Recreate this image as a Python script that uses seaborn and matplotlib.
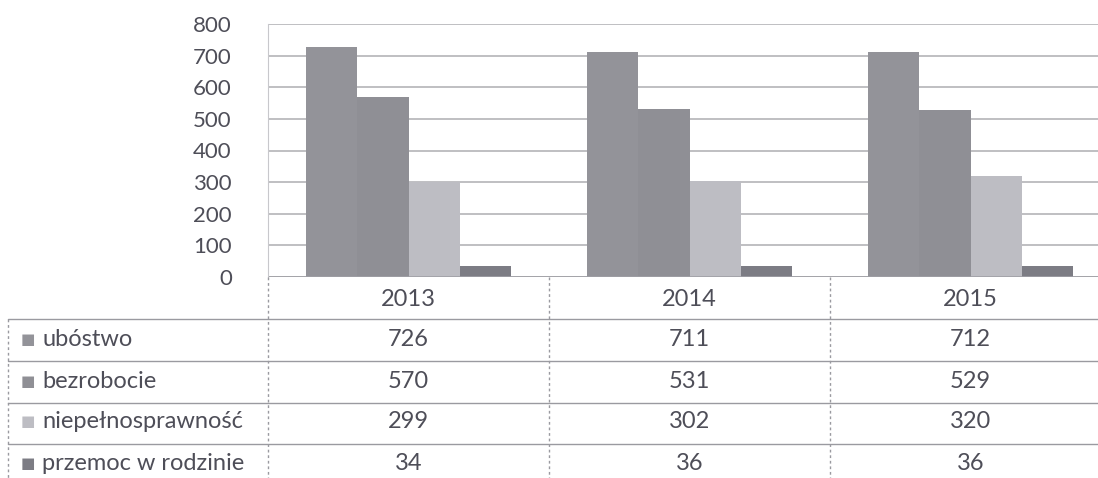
import pandas as pd
import numpy as np
import seaborn as sns
import matplotlib.pyplot as plt
from matplotlib.lines import Line2D

# data
years = ['2013', '2014', '2015']
categories = ['ubóstwo', 'bezrobocie', 'niepełnosprawność', 'przemoc w rodzinie']
ubostwo = [726, 711, 712]
bezrobocie = [570, 531, 529]
niepelnosprawnosc = [299, 302, 320]
przemoc = [34, 36, 36]
colors = ['#939399', '#8f8f95', '#bdbdc3', '#7c7c84']

series = [ubostwo, bezrobocie, niepelnosprawnosc, przemoc]
df = pd.DataFrame({
    'rok': np.tile(years, len(categories)),
    'kategoria': np.repeat(categories, len(years)),
    'liczba': np.concatenate(series),
})

sns.set_style('white')
plt.rcParams['font.family'] = ['Lato', 'DejaVu Sans']
txt_color = '#4e4e58'

W, H = 1098, 478
fig = plt.figure(figsize=(W / 100, H / 100), dpi=100)
# plot area in pixels: left 268, right 1111 (cut off), top 24, bottom 277
ax = fig.add_axes([268 / W, 1 - 277 / H, (1111 - 268) / W, (277 - 24) / H])

sns.barplot(data=df, x='rok', y='liczba', hue='kategoria', palette=colors,
            width=0.726, ax=ax, legend=False, saturation=1, linewidth=0)

ax.set_xlim(-0.5, 2.5)
ax.set_ylim(0, 800)
ax.set_yticks(range(0, 801, 100))
ax.yaxis.grid(True, color='#b4b4b8', linewidth=1.2)
ax.set_axisbelow(True)
for s in ['top', 'right', 'bottom']:
    ax.spines[s].set_visible(False)
ax.spines['left'].set_color('#c8c8cc')
ax.axhline(0, color='#a0a0a6', linewidth=1.2)
ax.tick_params(axis='y', length=0, labelsize=16, labelcolor=txt_color, pad=26)
ax.tick_params(axis='x', length=0)
ax.set_xticklabels([])
ax.set_xlabel('')
ax.set_ylabel('')

# data table under the chart
def fy(py):
    return 1 - py / H

row_lines = [319, 361, 403, 444]
row_mid = [299, 340, 381, 422, 463]
line_kw = dict(color='#9a9aa0', linewidth=1.0, transform=fig.transFigure)

# horizontal rules
for y in row_lines:
    fig.add_artist(Line2D([8 / W, 1], [fy(y), fy(y)], **line_kw))

# vertical dotted separators
for px in [268, 549, 830]:
    fig.add_artist(Line2D([px / W, px / W], [fy(277), 0], linestyle=(0, (2, 2)), **line_kw))
fig.add_artist(Line2D([8 / W, 8 / W], [fy(319), 0], linestyle=(0, (2, 2)), **line_kw))

for j, yr in enumerate(years):
    fig.text((268 + 281 * j + 140.5) / W, fy(row_mid[0]), yr, ha='center', va='center',
             fontsize=17, color=txt_color)

for i, (cat, vals) in enumerate(zip(categories, series)):
    yy = fy(row_mid[i + 1])
    fig.text(21 / W, yy, '■', ha='left', va='center', fontsize=11,
             color=colors[i], family=['DejaVu Sans'])
    fig.text(42 / W, yy, cat, ha='left', va='center', fontsize=17, color=txt_color)
    for j, v in enumerate(vals):
        fig.text((268 + 281 * j + 140.5) / W, yy, str(v), ha='center', va='center',
                 fontsize=17, color=txt_color)

fig.savefig('out.png', dpi=100)
